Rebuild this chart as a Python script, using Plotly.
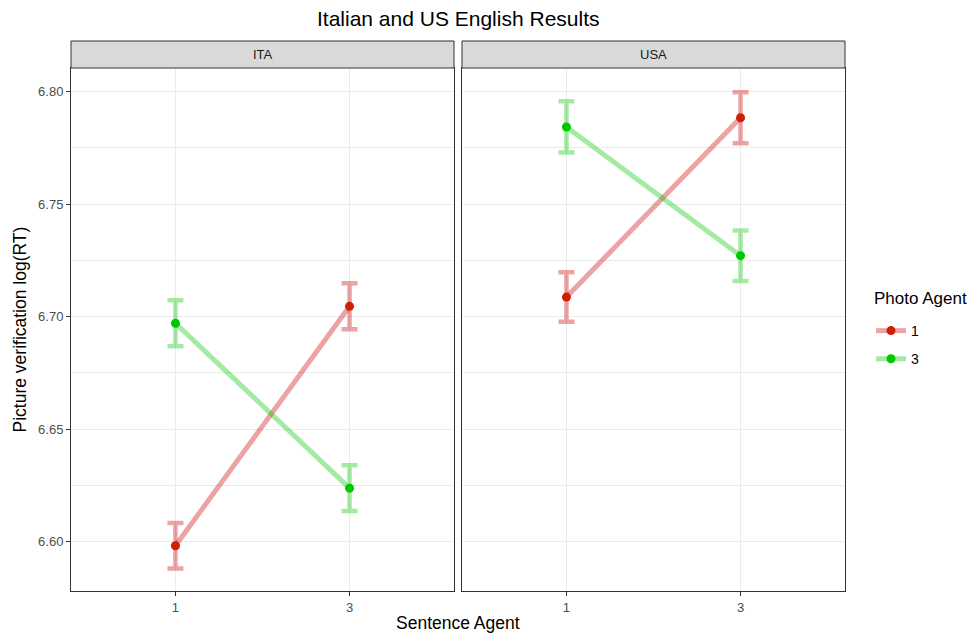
import plotly.graph_objects as go
from plotly.subplots import make_subplots

# ---- data ----
panels = ["ITA", "USA"]
sentence_agent = ["1", "3"]
photo_agents = ["1", "3"]
ita_photo1_mean = [6.5982, 6.7046]
ita_photo1_se = [0.0101, 0.0102]
ita_photo3_mean = [6.6971, 6.6238]
ita_photo3_se = [0.0102, 0.0102]
usa_photo1_mean = [6.7087, 6.7884]
usa_photo1_se = [0.0110, 0.0113]
usa_photo3_mean = [6.7843, 6.7271]
usa_photo3_se = [0.0114, 0.0112]

y_ticks = [6.60, 6.65, 6.70, 6.75, 6.80]

series = {
    "ITA": [(ita_photo1_mean, ita_photo1_se), (ita_photo3_mean, ita_photo3_se)],
    "USA": [(usa_photo1_mean, usa_photo1_se), (usa_photo3_mean, usa_photo3_se)],
}

point_colors = ["#D01E00", "#00C800"]
line_colors = ["rgba(204,0,0,0.36)", "rgba(0,200,0,0.36)"]

# page is offset by the 8px body margin; work in reference-page pixels
OFF = 8
W, H = 975 - OFF, 639 - OFF
FONT = "Liberation Sans, Arial, Helvetica, sans-serif"

def fx(p):
    return (p - OFF) / W

def fy(p):
    return 1 - (p - OFF) / H

fig = make_subplots(rows=1, cols=2, shared_yaxes=True)

for ci, panel in enumerate(panels):
    for pi, pa in enumerate(photo_agents):
        means, se = series[panel][pi]
        fig.add_trace(
            go.Scatter(
                x=sentence_agent,
                y=means,
                mode="lines+markers",
                name=pa,
                legendgroup=pa,
                showlegend=(ci == 0),
                line=dict(color=line_colors[pi], width=5),
                marker=dict(color=point_colors[pi], size=9),
                error_y=dict(type="data", array=se, visible=True,
                             color=line_colors[pi], thickness=4.5, width=8),
            ),
            row=1, col=ci + 1,
        )

px_l = [71, 462]
px_r = [454, 845]
top, bot = 68, 591
strip_top = 41

axis_common = dict(
    showline=True, mirror=True, linecolor="#333333", linewidth=1,
    showgrid=True, gridcolor="#EBEBEB", gridwidth=1.1,
    ticks="outside", ticklen=4, tickcolor="#333333", tickwidth=1,
    tickfont=dict(family=FONT, size=13, color="#4D4D4D"),
    zeroline=False,
)

for ci in range(2):
    xa = "xaxis" if ci == 0 else "xaxis2"
    ya = "yaxis" if ci == 0 else "yaxis2"
    fig.layout[xa].update(
        domain=[fx(px_l[ci]), fx(px_r[ci])],
        type="category", range=[-0.6, 1.6], **axis_common,
    )
    fig.layout[ya].update(
        domain=[fy(bot), fy(top)],
        range=[6.5781, 6.8105],
        tickvals=y_ticks, tickformat=".2f",
        showticklabels=(ci == 0),
        minor=dict(dtick=0.025, tick0=6.575, showgrid=True,
                   gridcolor="#EBEBEB", gridwidth=0.6, ticks=""),
        **axis_common,
    )
    if ci == 1:
        fig.layout[ya].update(ticks="")
    fig.add_shape(type="rect", xref="paper", yref="paper",
                  x0=fx(px_l[ci]), x1=fx(px_r[ci]), y0=fy(top), y1=fy(strip_top),
                  fillcolor="#D9D9D9", line=dict(color="#333333", width=1))
    fig.add_annotation(xref="paper", yref="paper",
                       x=fx((px_l[ci] + px_r[ci]) / 2), y=fy((top + strip_top) / 2),
                       text=panels[ci], showarrow=False,
                       font=dict(family=FONT, size=13, color="#1A1A1A"),
                       xanchor="center", yanchor="middle")

fig.add_annotation(xref="paper", yref="paper", x=fx(458), y=fy(19),
                   text="Italian and US English Results", showarrow=False,
                   font=dict(family=FONT, size=21, color="black"),
                   xanchor="center", yanchor="middle")
fig.add_annotation(xref="paper", yref="paper", x=fx(458), y=fy(623),
                   text="Sentence Agent", showarrow=False,
                   font=dict(family=FONT, size=17.5, color="black"),
                   xanchor="center", yanchor="middle")
fig.add_annotation(xref="paper", yref="paper", x=fx(20), y=fy((top + bot) / 2),
                   text="Picture verification log(RT)", showarrow=False, textangle=-90,
                   font=dict(family=FONT, size=17.5, color="black"),
                   xanchor="center", yanchor="middle")
# legend title
fig.add_annotation(xref="paper", yref="paper", x=fx(872), y=fy(298),
                   text="Photo Agent", showarrow=False,
                   font=dict(family=FONT, size=17, color="black"),
                   xanchor="left", yanchor="middle")

fig.update_layout(
    width=W, height=H,
    margin=dict(l=0, r=0, t=0, b=0),
    paper_bgcolor="white", plot_bgcolor="white",
    font=dict(family=FONT),
    legend=dict(
        x=fx(871), y=fy(315), xanchor="left", yanchor="top",
        font=dict(family=FONT, size=14, color="black"),
        tracegroupgap=7, itemwidth=30,
        bgcolor="rgba(0,0,0,0)",
    ),
)

fig.write_html("out.html")
